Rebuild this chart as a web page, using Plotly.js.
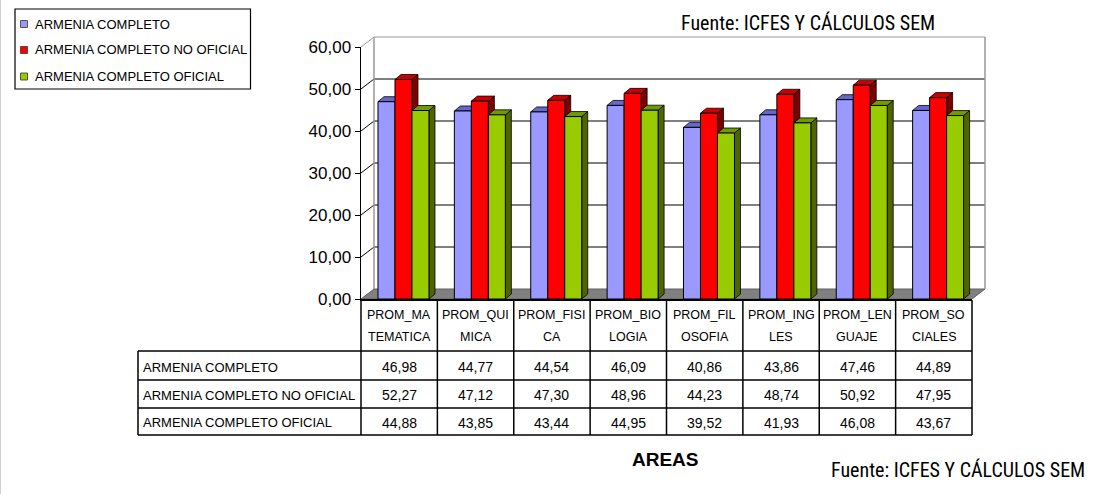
<!DOCTYPE html>
<html>
<head>
<meta charset="utf-8">
<script src="https://cdn.plot.ly/plotly-3.0.1.min.js"></script>
<style>html,body{margin:0;padding:0;background:#fff;}#chart{width:1096px;height:494px;}</style>
</head>
<body>
<div id="chart"></div>
<script>
// ---- data ----
const categories = ["PROM_MATEMATICA","PROM_QUIMICA","PROM_FISICA","PROM_BIOLOGIA","PROM_FILOSOFIA","PROM_INGLES","PROM_LENGUAJE","PROM_SOCIALES"];
const headerLine1 = ["PROM_MA","PROM_QUI","PROM_FISI","PROM_BIO","PROM_FIL","PROM_ING","PROM_LEN","PROM_SO"];
const headerLine2 = ["TEMATICA","MICA","CA","LOGIA","OSOFIA","LES","GUAJE","CIALES"];
const seriesNames = ["ARMENIA COMPLETO","ARMENIA COMPLETO NO OFICIAL","ARMENIA COMPLETO OFICIAL"];
const completo = [46.98,44.77,44.54,46.09,40.86,43.86,47.46,44.89];
const noOficial = [52.27,47.12,47.30,48.96,44.23,48.74,50.92,47.95];
const oficial = [44.88,43.85,43.44,44.95,39.52,41.93,46.08,43.67];
const yTicks = [0,10,20,30,40,50,60];
const xTitle = "AREAS";
const sourceText = "Fuente: ICFES Y CÁLCULOS SEM";

// ---- style ----
const W = 1096, H = 494;
const L = 361, R = 972, T = 47, B = 299;
const frontColors = ["#9999ff","#ff0000","#99cc00"];
const topColors = ["#6666cc","#cc0000","#739900"];
const sideColors = ["#333399","#800000","#4d6600"];
const barWidth = 0.2225;
const barOffsets = [-0.2775,-0.055,0.1675];
const FONT = "Liberation Sans, Arial, sans-serif";
const NARROW = "Liberation Sans Narrow, Arial Narrow, Roboto Condensed, sans-serif";
const yMin = 0, yMax = 60;
const nCat = categories.length;
const catPx = (R - L) / nCat;
const unitPx = (B - T) / (yMax - yMin);
const depth3dX = 6 / catPx, depth3dY = 5 / unitPx;   // bar 3D depth in data units
const WALL_DX = 13, WALL_DY = 10;                     // wall depth in pixels

const px = x => (x - L) / (R - L);
const py = y => (B - y) / (B - T);
const vy = v => (v - yMin) / (yMax - yMin);
const wdx = WALL_DX / (R - L), wdy = WALL_DY / (B - T);

const allSeries = [completo, noOficial, oficial];

const traces = allSeries.map((vals, s) => ({
  type: "bar",
  name: seriesNames[s],
  x: categories.map((c, i) => i),
  y: vals,
  width: barWidth,
  offset: barOffsets[s],
  marker: {color: frontColors[s], line: {color: "#000", width: 1}},
  hoverinfo: "y+name",
  showlegend: false
}));

const shapes = [];
const annotations = [];

// left page border
shapes.push({type:"line", xref:"paper", yref:"paper", x0:px(0.5), x1:px(0.5), y0:py(0), y1:py(H), line:{color:"#d0d0d0", width:1}, layer:"below"});

// floor
shapes.push({type:"path", xref:"paper", yref:"paper", layer:"below",
  path:`M0,0 L1,0 L${1+wdx},${wdy} L${wdx},${wdy} Z`,
  fillcolor:"#808080", line:{color:"#606060", width:1}});

// back wall gridlines + side diagonals
yTicks.forEach(v => {
  if (v === yMin) return;
  const isTop = v === yMax;
  const col = isTop ? "#999" : "#000";
  shapes.push({type:"line", xref:"paper", yref:"paper", layer:"below",
    x0:wdx, x1:1+wdx, y0:vy(v)+wdy, y1:vy(v)+wdy, line:{color:col, width:1}});
  shapes.push({type:"line", xref:"paper", yref:"paper", layer:"below",
    x0:0, x1:wdx, y0:vy(v), y1:vy(v)+wdy, line:{color:col, width:1}});
});
// wall edges
shapes.push({type:"line", xref:"paper", yref:"paper", layer:"below", x0:wdx, x1:wdx, y0:wdy, y1:1+wdy, line:{color:"#999", width:1.5}});
shapes.push({type:"line", xref:"paper", yref:"paper", layer:"below", x0:1+wdx, x1:1+wdx, y0:wdy, y1:1+wdy, line:{color:"#999", width:1.5}});

// bar 3D faces (side first, then top)
allSeries.forEach((vals, s) => {
  vals.forEach((v, i) => {
    const xr = i + barOffsets[s] + barWidth;
    shapes.push({type:"path", xref:"x", yref:"y", layer:"between",
      path:`M${xr},0 L${xr},${v} L${xr+depth3dX},${v+depth3dY} L${xr+depth3dX},${depth3dY} Z`,
      fillcolor:sideColors[s], line:{color:"#000", width:0.8}});
  });
});
allSeries.forEach((vals, s) => {
  vals.forEach((v, i) => {
    const xl = i + barOffsets[s], xr = xl + barWidth;
    shapes.push({type:"path", xref:"x", yref:"y", layer:"between",
      path:`M${xl},${v} L${xl+depth3dX},${v+depth3dY} L${xr+depth3dX},${v+depth3dY} L${xr},${v} Z`,
      fillcolor:topColors[s], line:{color:"#000", width:0.8}});
  });
});

// data table
const tblLeft = 138, hdrTop = 300, rowLines = [351, 380, 408, 435];
for (let k = 0; k <= nCat; k++) {
  shapes.push({type:"line", xref:"paper", yref:"paper", x0:k/nCat, x1:k/nCat, y0:py(hdrTop), y1:py(rowLines[3]), line:{color:"#000", width:1.5}});
}
rowLines.forEach(y => shapes.push({type:"line", xref:"paper", yref:"paper", x0:px(tblLeft), x1:1, y0:py(y), y1:py(y), line:{color:"#000", width:1.5}}));
shapes.push({type:"line", xref:"paper", yref:"paper", x0:px(tblLeft), x1:px(tblLeft), y0:py(rowLines[0]), y1:py(rowLines[3]), line:{color:"#000", width:1.5}});

categories.forEach((c, i) => {
  const xc = (i + 0.5) / nCat;
  annotations.push({xref:"paper", yref:"paper", x:xc, y:py(315), text:headerLine1[i], showarrow:false, xanchor:"center", yanchor:"middle", font:{family:FONT, size:12.5, color:"#000"}});
  annotations.push({xref:"paper", yref:"paper", x:xc, y:py(337), text:headerLine2[i], showarrow:false, xanchor:"center", yanchor:"middle", font:{family:FONT, size:12.5, color:"#000"}});
});
const rowCenters = [367, 395, 422.5];
allSeries.forEach((vals, s) => {
  annotations.push({xref:"paper", yref:"paper", x:px(141), y:py(rowCenters[s]), text:seriesNames[s], showarrow:false, xanchor:"left", yanchor:"middle", font:{family:FONT, size:13, color:"#000"}});
  vals.forEach((v, i) => {
    annotations.push({xref:"paper", yref:"paper", x:(i+0.5)/nCat, y:py(rowCenters[s]), text:v.toFixed(2).replace(".", ","), showarrow:false, xanchor:"center", yanchor:"middle", font:{family:FONT, size:14, color:"#000"}});
  });
});

// legend (custom)
shapes.push({type:"rect", xref:"paper", yref:"paper", x0:px(15), x1:px(250.5), y0:py(9), y1:py(89), line:{color:"#000", width:1.2}, fillcolor:"#fff"});
const legY = [24, 50, 76.5];
seriesNames.forEach((n, s) => {
  shapes.push({type:"rect", xref:"paper", yref:"paper", x0:px(20.5), x1:px(27.5), y0:py(legY[s]-3.5), y1:py(legY[s]+3.5), line:{color:"#333", width:0.8}, fillcolor:frontColors[s]});
  annotations.push({xref:"paper", yref:"paper", x:px(33), y:py(legY[s]), text:n, showarrow:false, xanchor:"left", yanchor:"middle", font:{family:FONT, size:13, color:"#000"}});
});

// titles
annotations.push({xref:"paper", yref:"paper", x:px(665), y:py(459), text:"<b>"+xTitle+"</b>", showarrow:false, xanchor:"center", yanchor:"middle", font:{family:FONT, size:19, color:"#000"}});
annotations.push({xref:"paper", yref:"paper", x:px(679), y:py(23), text:sourceText, showarrow:false, xanchor:"left", yanchor:"middle", font:{family:NARROW, size:20, color:"#000"}});
annotations.push({xref:"paper", yref:"paper", x:px(829), y:py(470), text:sourceText, showarrow:false, xanchor:"left", yanchor:"middle", font:{family:NARROW, size:20, color:"#000"}});

const layout = {
  width: W, height: H,
  margin: {l: L, r: W - R, t: T, b: H - B, pad: 0},
  paper_bgcolor: "#fff", plot_bgcolor: "rgba(0,0,0,0)",
  separators: ",.",
  barmode: "overlay",
  showlegend: false,
  xaxis: {range: [-0.5, nCat - 0.5], showgrid: false, zeroline: false, showticklabels: false, ticks: "", showline: true, linecolor: "#000", linewidth: 1.5, fixedrange: true},
  yaxis: {range: [yMin, yMax], tickvals: yTicks, tickformat: ".2f", ticks: "outside", ticklen: 5, tickcolor: "#000", showgrid: false, zeroline: false, showline: true, linecolor: "#000", linewidth: 1.5, tickfont: {family: FONT, size: 17, color: "#000"}, fixedrange: true},
  shapes: shapes,
  annotations: annotations
};

Plotly.newPlot("chart", traces, layout, {displayModeBar: false, staticPlot: true});
</script>
</body>
</html>
